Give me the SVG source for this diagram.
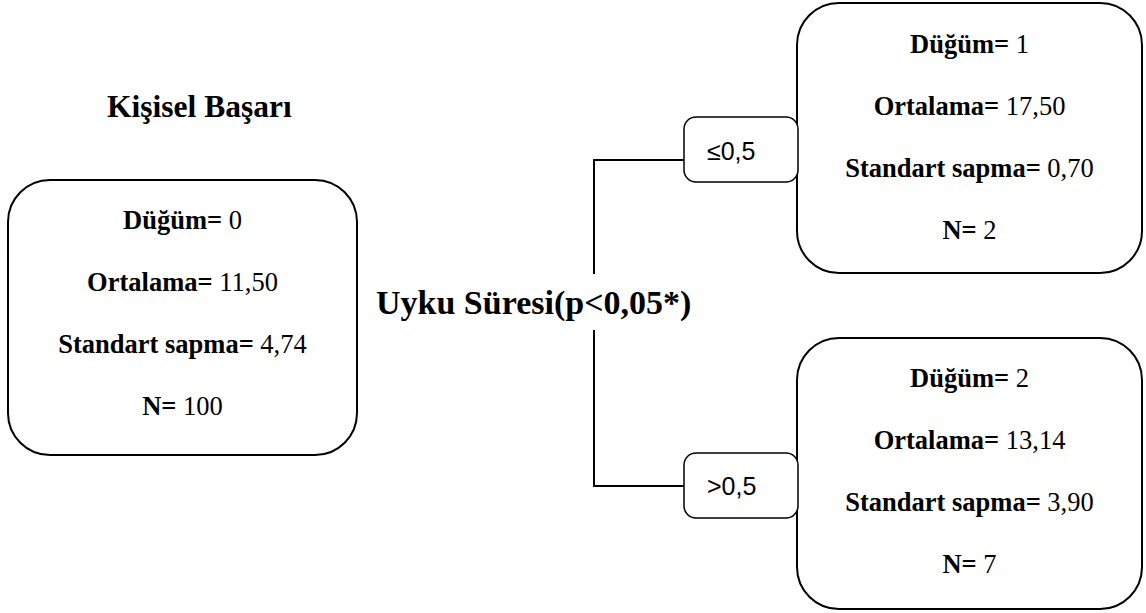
<svg xmlns="http://www.w3.org/2000/svg" width="1146" height="613" viewBox="0 0 1146 613">
<style>
.box{fill:#fff;stroke:#000;stroke-width:2}
.lbl{fill:#fff;stroke:#000;stroke-width:1.5}
.t{font-family:"Liberation Serif","Times New Roman",serif;font-size:26.5px;fill:#000;text-anchor:middle}
.b{font-weight:bold}
.h{font-family:"Liberation Serif","Times New Roman",serif;font-size:31.5px;font-weight:bold;fill:#000}
.u{font-family:"Liberation Serif","Times New Roman",serif;font-size:34px;font-weight:bold;fill:#000}
.s{font-family:"Liberation Sans",Arial,sans-serif;font-size:25px;fill:#000}
.c{fill:none;stroke:#000;stroke-width:2}
</style>
<text class="h" x="107" y="117">Kişisel Başarı</text>
<g id="connectors">
<path class="c" d="M684,160 H594 V274"/>
<path class="c" d="M594,330 V486 H684"/>
</g>
<text class="u" x="376" y="314">Uyku Süresi(p&lt;0,05*)</text>
<g id="node0">
<rect class="box" x="8" y="180" width="349" height="275" rx="42"/>
<text class="t" x="182.5" y="229"><tspan class="b">Düğüm=</tspan> 0</text>
<text class="t" x="182.5" y="291"><tspan class="b">Ortalama=</tspan> 11,50</text>
<text class="t" x="182.5" y="353"><tspan class="b">Standart sapma=</tspan> 4,74</text>
<text class="t" x="182.5" y="415"><tspan class="b">N=</tspan> 100</text>
</g>
<g id="node1">
<rect class="box" x="797" y="3" width="345" height="270" rx="42"/>
<text class="t" x="969.5" y="53"><tspan class="b">Düğüm=</tspan> 1</text>
<text class="t" x="969.5" y="115"><tspan class="b">Ortalama=</tspan> 17,50</text>
<text class="t" x="969.5" y="177"><tspan class="b">Standart sapma=</tspan> 0,70</text>
<text class="t" x="969.5" y="239"><tspan class="b">N=</tspan> 2</text>
</g>
<g id="node2">
<rect class="box" x="797" y="338" width="345" height="271" rx="42"/>
<text class="t" x="969.5" y="387"><tspan class="b">Düğüm=</tspan> 2</text>
<text class="t" x="969.5" y="449"><tspan class="b">Ortalama=</tspan> 13,14</text>
<text class="t" x="969.5" y="511"><tspan class="b">Standart sapma=</tspan> 3,90</text>
<text class="t" x="969.5" y="573"><tspan class="b">N=</tspan> 7</text>
</g>
<g id="label1">
<rect class="lbl" x="684" y="117" width="114" height="65" rx="12"/>
<text class="s" x="707" y="160">≤0,5</text>
</g>
<g id="label2">
<rect class="lbl" x="684" y="453" width="114" height="65" rx="12"/>
<text class="s" x="707" y="495">&gt;0,5</text>
</g>
</svg>
